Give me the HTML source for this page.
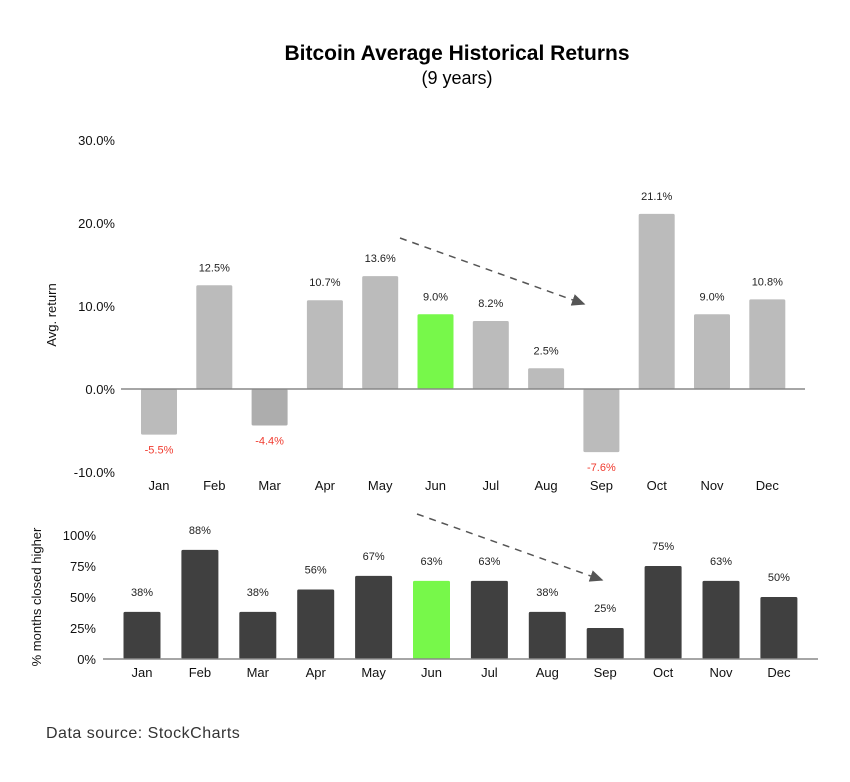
<!DOCTYPE html>
<html><head><meta charset="utf-8"><style>
body{margin:0;background:#fff;width:850px;height:777px;overflow:hidden;font-family:"Liberation Sans",sans-serif}
</style></head><body>
<svg width="850" height="777" xmlns="http://www.w3.org/2000/svg" font-family="Liberation Sans, sans-serif">
<defs><marker id="ah" markerWidth="10" markerHeight="10" refX="8" refY="5" orient="auto"><path d="M0,1 L9,5 L0,9 Z" fill="#555"/></marker></defs>
<text x="457" y="60" text-anchor="middle" font-size="21" font-weight="bold" fill="#000">Bitcoin Average Historical Returns</text>
<text x="457" y="84" text-anchor="middle" font-size="18" fill="#000">(9 years)</text>
<g id="top"></g>
<g id="bot"></g>
<line x1="400" y1="238" x2="584" y2="304" stroke="#555" stroke-width="1.5" stroke-dasharray="7,6" marker-end="url(#ah)"/>
<line x1="417" y1="514" x2="602" y2="580" stroke="#555" stroke-width="1.5" stroke-dasharray="7,6" marker-end="url(#ah)"/>
<text x="46" y="738" font-size="16" fill="#333" letter-spacing="0.5">Data source: StockCharts</text>
</svg>
<script>
const months=["Jan","Feb","Mar","Apr","May","Jun","Jul","Aug","Sep","Oct","Nov","Dec"];
const avgReturn=[-5.5,12.5,-4.4,10.7,13.6,9.0,8.2,2.5,-7.6,21.1,9.0,10.8];
const pctHigher=[38,88,38,56,67,63,63,38,25,75,63,50];
const topTicks=[-10,0,10,20,30];
const botTicks=[0,25,50,75,100];
const NS="http://www.w3.org/2000/svg";
function mk(p,t,a,txt){const e=document.createElementNS(NS,t);for(const k in a)e.setAttribute(k,a[k]);if(txt!==undefined)e.textContent=txt;p.appendChild(e);return e;}
const gTop=document.getElementById('top'),gBot=document.getElementById('bot');
const ty=v=>389-v*8.3, tx=i=>159+i*55.3;
topTicks.forEach(t=>{const e=mk(gTop,'text',{x:115,y:ty(t)+5,'text-anchor':'end','font-size':13,fill:'#111'},t.toFixed(1)+'%');

});
const yt=mk(gTop,'text',{x:0,y:0,transform:'translate(56,315) rotate(-90)','text-anchor':'middle','font-size':13,fill:'#111'},'Avg. return');


avgReturn.forEach((v,i)=>{const x=tx(i)-18;const y0=Math.min(ty(v),ty(0));const h=Math.abs(ty(v)-ty(0));
const fill=i==5?'#77f84a':(i==2?'#adadad':'#bbbbbb');
const r=mk(gTop,'rect',{x:x,y:y0,width:36,height:h,fill:fill,rx:1.5});


const ly=v>=0?ty(v)-14:ty(v)+19;
const l=mk(gTop,'text',{x:tx(i),y:ly,'text-anchor':'middle','font-size':11,fill:v<0?'#f03a2e':'#222'},v.toFixed(1)+'%');


const m=mk(gTop,'text',{x:tx(i),y:490,'text-anchor':'middle','font-size':13,fill:'#111'},months[i]);

});
const z=mk(gTop,'line',{x1:121,y1:ty(0),x2:805,y2:ty(0),stroke:'#888','stroke-width':1.5});


const by=v=>659-v*1.24, bx=i=>142+i*57.9;
botTicks.forEach(t=>{const e=mk(gBot,'text',{x:96,y:by(t)+5,'text-anchor':'end','font-size':13,fill:'#111'},t+'%');

});
const yb=mk(gBot,'text',{x:0,y:0,transform:'translate(41,597) rotate(-90)','text-anchor':'middle','font-size':13,fill:'#111'},'% months closed higher');


pctHigher.forEach((v,i)=>{const r=mk(gBot,'rect',{x:bx(i)-18.5,y:by(v),width:37,height:by(0)-by(v),fill:i==5?'#77f84a':'#404040',rx:1.5});


const l=mk(gBot,'text',{x:bx(i),y:by(v)-16,'text-anchor':'middle','font-size':11,fill:'#222'},v+'%');


const m=mk(gBot,'text',{x:bx(i),y:677,'text-anchor':'middle','font-size':13,fill:'#111'},months[i]);

});
const b=mk(gBot,'line',{x1:103,y1:by(0),x2:818,y2:by(0),stroke:'#888','stroke-width':1.5});


</script>
</body></html>
